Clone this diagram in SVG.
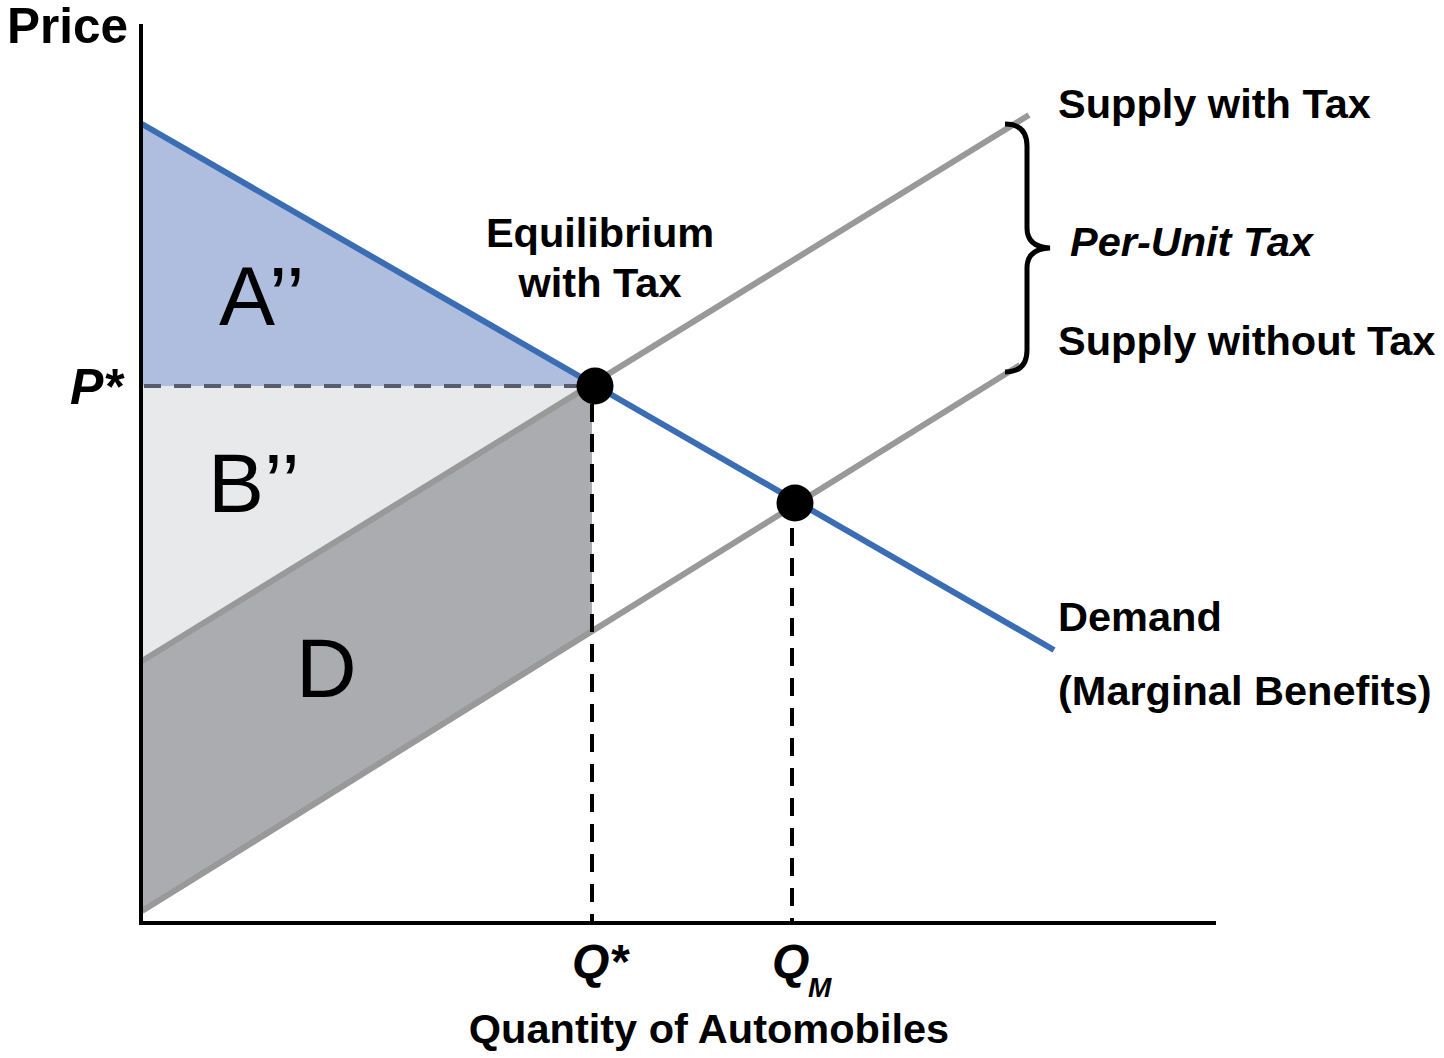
<svg xmlns="http://www.w3.org/2000/svg" width="1444" height="1058" viewBox="0 0 1444 1058">
<style>
.lbl{font-family:"Liberation Sans",Arial,sans-serif;font-weight:bold;font-size:41.5px;fill:#000}
.it{font-style:italic}
.big{font-family:"Liberation Sans",Arial,sans-serif;font-size:84px;fill:#000}
.sup{stroke:#999999;stroke-width:6;fill:none}
.dem{stroke:#3a6db4;stroke-width:6;fill:none}
.vd{stroke:#000;stroke-width:4;stroke-dasharray:18 12;fill:none}
.axis{stroke:#000;stroke-width:4;fill:none}
</style>
<rect width="1444" height="1058" fill="#ffffff"/>
<g id="areas">
<polygon id="areaA" points="142,124 595,386 142,386" fill="#afbddf"/>
<polygon id="areaB" points="142,386 592,386 142,661" fill="#e8e9eb"/>
<polygon id="areaD" points="142,661 592,385 592,630 142,911" fill="#abacaf"/>
</g>
<g id="connectors">
<line class="sup" x1="142" y1="661" x2="1029" y2="115"/>
<line class="sup" x1="142" y1="911" x2="1020" y2="365"/>
<line class="dem" x1="142" y1="124" x2="1054" y2="650"/>
<line x1="144" y1="386" x2="590" y2="386" stroke="#585c6b" stroke-width="4" stroke-dasharray="17 13"/>
<line class="vd" x1="592" y1="404" x2="592" y2="922"/>
<line class="vd" x1="792" y1="528" x2="792" y2="922"/>
<path d="M1005,124 Q1027,124 1027,146 L1027,228 Q1027,247 1050,248 Q1027,249 1027,268 L1027,350 Q1027,372 1005,372" fill="none" stroke="#000" stroke-width="5"/>
</g>
<g id="axes">
<line class="axis" x1="141" y1="24" x2="141" y2="925"/>
<line class="axis" x1="139" y1="923" x2="1216" y2="923"/>
</g>
<g id="eq-tax"><circle cx="595" cy="386" r="18.5" fill="#000"/></g>
<g id="eq-market"><circle cx="795" cy="503" r="18.5" fill="#000"/></g>
<g id="labels">
<text class="lbl" x="7" y="43" style="font-size:49.5px">Price</text>
<text class="lbl it" x="70" y="404" style="font-size:50px">P*</text>
<text class="big" x="219" y="325">A’’</text>
<text class="big" x="208" y="512">B’’</text>
<text class="big" x="296" y="697">D</text>
<text class="lbl" x="600" y="247" text-anchor="middle">Equilibrium</text>
<text class="lbl" x="600" y="297" text-anchor="middle">with Tax</text>
<text class="lbl" x="1058" y="118">Supply with Tax</text>
<text class="lbl it" x="1070" y="256">Per-Unit Tax</text>
<text class="lbl" x="1058" y="355">Supply without Tax</text>
<text class="lbl" x="1058" y="631">Demand</text>
<text class="lbl" x="1058" y="705">(Marginal Benefits)</text>
<text class="lbl it" x="572" y="978" style="font-size:48px">Q*</text>
<text class="lbl it" x="772" y="978" style="font-size:48px">Q</text>
<text class="lbl it" x="808" y="997" style="font-size:28px">M</text>
<text class="lbl" x="709" y="1043" text-anchor="middle">Quantity of Automobiles</text>
</g>
</svg>
